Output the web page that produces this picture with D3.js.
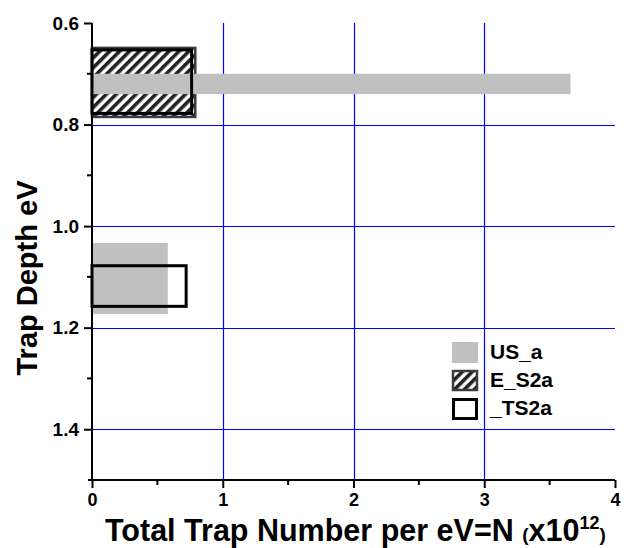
<!DOCTYPE html>
<html>
<head>
<meta charset="utf-8">
<script src="https://cdn.jsdelivr.net/npm/d3@7"></script>
<style>
  body { margin: 0; background: #fff; }
  text { font-family: "Liberation Sans", Arial, sans-serif; font-weight: bold; fill: #000; }
</style>
</head>
<body>
<div id="chart"></div>
<script>
// trap depth ranges (eV) and total trap number (x10^12)
var series = ["US_a", "E_S2a", "_TS2a"];
var usDepthLo = [0.700, 1.033];
var usDepthHi = [0.740, 1.173];
var usN = [3.66, 0.58];
var esDepthLo = [0.649];
var esDepthHi = [0.785];
var esN = [0.79];
var tsDepthLo = [0.653, 1.078];
var tsDepthHi = [0.778, 1.158];
var tsN = [0.762, 0.72];
var xTicks = [0, 1, 2, 3, 4];
var yTicks = [0.6, 0.8, 1.0, 1.2, 1.4];

var svgWidth = 626, svgHeight = 548;
var plotLeft = 92, plotRight = 615, plotTop = 23, plotBottom = 480;

var svg = d3.select("#chart")
  .append("svg")
  .attr("width", svgWidth)
  .attr("height", svgHeight);

// hatch pattern
var pat = svg.append("defs").append("pattern")
  .attr("id", "hatch")
  .attr("patternUnits", "userSpaceOnUse")
  .attr("width", 7).attr("height", 7)
  .attr("patternTransform", "rotate(45)");
pat.append("rect").attr("width", 7).attr("height", 7).attr("fill", "#fff");
pat.append("rect").attr("width", 3.6).attr("height", 7).attr("fill", "#222");

var xScale = d3.scaleLinear().domain([0, 4]).range([plotLeft, plotRight]);
var yScale = d3.scaleLinear().domain([0.6, 1.5]).range([plotTop, plotBottom]);

// grid
svg.append("g").selectAll("line")
  .data([1, 2, 3]).enter().append("line")
  .attr("x1", d => Math.round(xScale(d)) + 0.5).attr("x2", d => Math.round(xScale(d)) + 0.5)
  .attr("y1", yScale(0.6)).attr("y2", yScale(1.5))
  .attr("stroke", "#0000ff").attr("stroke-width", 1.2);
svg.append("g").selectAll("line")
  .data([0.8, 1.0, 1.2, 1.4]).enter().append("line")
  .attr("x1", xScale(0)).attr("x2", xScale(4))
  .attr("y1", d => Math.round(yScale(d)) + 0.5).attr("y2", d => Math.round(yScale(d)) + 0.5)
  .attr("stroke", "#0000ff").attr("stroke-width", 1.2);

// E_S2a hatched
svg.append("g").selectAll("rect")
  .data(esN.map((n, i) => ({ n: n, lo: esDepthLo[i], hi: esDepthHi[i] })))
  .enter().append("rect")
  .attr("x", xScale(0)).attr("width", d => xScale(d.n) - xScale(0))
  .attr("y", d => yScale(d.lo)).attr("height", d => yScale(d.hi) - yScale(d.lo))
  .attr("fill", "url(#hatch)").attr("stroke", "#3c3c3c").attr("stroke-width", 2.5);

// US_a gray
svg.append("g").selectAll("rect")
  .data(usN.map((n, i) => ({ n: n, lo: usDepthLo[i], hi: usDepthHi[i] })))
  .enter().append("rect")
  .attr("x", xScale(0)).attr("width", d => xScale(d.n) - xScale(0))
  .attr("y", d => yScale(d.lo)).attr("height", d => yScale(d.hi) - yScale(d.lo))
  .attr("fill", "#c0c0c0");

// _TS2a open box
svg.append("g").selectAll("rect")
  .data(tsN.map((n, i) => ({ n: n, lo: tsDepthLo[i], hi: tsDepthHi[i] })))
  .enter().append("rect")
  .attr("x", xScale(0)).attr("width", d => xScale(d.n) - xScale(0))
  .attr("y", d => yScale(d.lo)).attr("height", d => yScale(d.hi) - yScale(d.lo))
  .attr("fill", "none").attr("stroke", "#000").attr("stroke-width", 3);

// axes
var xAxis = d3.axisBottom(xScale).tickValues(xTicks).tickFormat(d3.format("d"))
  .tickSize(8).tickPadding(5);
var xg = svg.append("g").attr("transform", "translate(0," + plotBottom + ")").call(xAxis);
xg.attr("font-size", null).attr("font-family", null);
xg.select(".domain").attr("d", "M" + (plotLeft - 4) + ",0H" + plotRight).attr("stroke-width", 2);
xg.selectAll(".tick line").attr("stroke-width", 2);
xg.selectAll(".tick text").style("font-size", "18px");
xg.append("g").selectAll("line")
  .data([0.5, 1.5, 2.5, 3.5]).enter().append("line")
  .attr("x1", d => xScale(d)).attr("x2", d => xScale(d))
  .attr("y1", 0).attr("y2", 5).attr("stroke", "#000").attr("stroke-width", 2);

var yAxis = d3.axisLeft(yScale).tickValues(yTicks).tickFormat(d3.format(".1f"))
  .tickSize(8).tickPadding(5);
var yg = svg.append("g").attr("transform", "translate(" + plotLeft + ",0)").call(yAxis);
yg.attr("font-size", null).attr("font-family", null);
yg.select(".domain").attr("d", "M0," + plotTop + "V" + plotBottom).attr("stroke-width", 2);
yg.selectAll(".tick line").attr("stroke-width", 2);
yg.selectAll(".tick text").style("font-size", "19px");
yg.append("g").selectAll("line")
  .data([0.7, 0.9, 1.1, 1.3]).enter().append("line")
  .attr("y1", d => yScale(d)).attr("y2", d => yScale(d))
  .attr("x1", 0).attr("x2", -5).attr("stroke", "#000").attr("stroke-width", 2);
svg.selectAll(".tick text").attr("fill", "#000");

// axis titles
var xt = svg.append("text").attr("x", 105).attr("y", 541).style("font-size", "30.5px");
xt.append("tspan").text("Total Trap Number per eV=N ");
xt.append("tspan").style("font-size", "19px").text("(");
xt.append("tspan").text("x10");
xt.append("tspan").style("font-size", "18px").attr("dy", -12).text("12");
xt.append("tspan").style("font-size", "19px").attr("dy", 12).text(")");

svg.append("text")
  .attr("transform", "translate(37,278) rotate(-90)")
  .attr("text-anchor", "middle")
  .style("font-size", "29px")
  .text("Trap Depth eV");

// legend
var lg = svg.append("g");
var legY = [342, 370, 398];
lg.append("rect").attr("x", 452).attr("y", legY[0]).attr("width", 26).attr("height", 21).attr("fill", "#c0c0c0");
lg.append("rect").attr("x", 453).attr("y", legY[1] + 1).attr("width", 24).attr("height", 19)
  .attr("fill", "url(#hatch)").attr("stroke", "#3c3c3c").attr("stroke-width", 2.5);
lg.append("rect").attr("x", 453.5).attr("y", legY[2] + 1.5).attr("width", 23).attr("height", 19)
  .attr("fill", "none").attr("stroke", "#000").attr("stroke-width", 3);
lg.selectAll("text.leg").data(series).enter().append("text")
  .attr("class", "leg")
  .attr("x", 490).attr("y", (d, i) => legY[i] + 17)
  .style("font-size", "21px")
  .text(d => d);
</script>
</body>
</html>
